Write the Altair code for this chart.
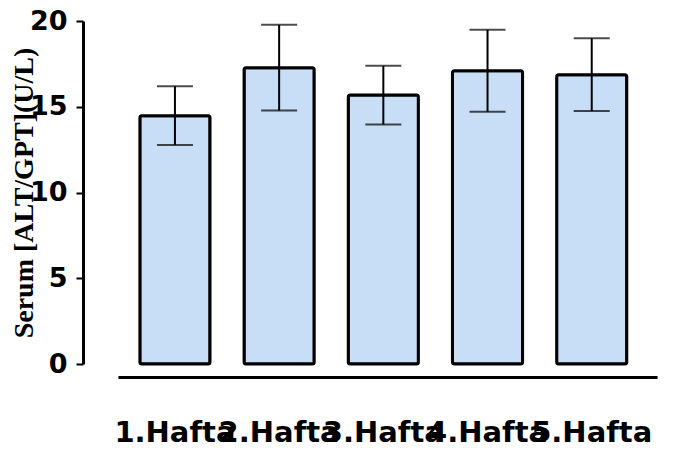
import altair as alt
import pandas as pd

weeks = ["1.Hafta", "2.Hafta", "3.Hafta", "4.Hafta", "5.Hafta"]
means = [14.48, 17.28, 15.68, 17.10, 16.87]
sds = [1.71, 2.50, 1.71, 2.39, 2.12]

df = pd.DataFrame({
    "week": weeks,
    "mean": means,
    "lo": [m - s for m, s in zip(means, sds)],
    "hi": [m + s for m, s in zip(means, sds)],
})

xscale = alt.Scale(paddingInner=0.327, paddingOuter=0.25, align=0.42)
yscale = alt.Scale(domain=[0, 20], nice=False, zero=True)

x = alt.X("week:N", sort=weeks, scale=xscale, title=None,
          axis=alt.Axis(labelAngle=0, labelFont="DejaVu Sans", labelFontWeight="bold",
                        labelFontSize=29, labelColor="black", labelOverlap=False,
                        ticks=False, labelPadding=41, domainWidth=3, domainColor="black",
                        offset=13, labelFlush=False))

bars = alt.Chart(df).mark_bar(color="#c8ddf6", stroke="black", strokeWidth=3,
                              cornerRadius=2).encode(
    x=x,
    y=alt.Y("mean:Q", scale=yscale, title="Serum [ALT/GPT](U/L)",
            axis=alt.Axis(values=[0, 5, 10, 15, 20], grid=False, offset=35,
                          domainWidth=3, domainColor="black", tickSize=7, tickWidth=2,
                          tickColor="black", labelPadding=9,
                          labelFont="DejaVu Sans", labelFontWeight="bold",
                          labelFontSize=27, labelColor="black",
                          titleFont="Liberation Serif", titleFontWeight="bold",
                          titleFontSize=28, titleColor="black", titlePadding=-9)),
)

err = alt.Chart(df).mark_rule(color="black", strokeWidth=2).encode(
    x=alt.X("week:N", sort=weeks, scale=xscale),
    y=alt.Y("lo:Q", scale=yscale),
    y2="hi:Q",
)
cap_hi = alt.Chart(df).mark_tick(color="black", thickness=2, size=36, orient="horizontal").encode(
    x=alt.X("week:N", sort=weeks, scale=xscale),
    y=alt.Y("hi:Q", scale=yscale),
)
cap_lo = alt.Chart(df).mark_tick(color="black", thickness=2, size=36, orient="horizontal").encode(
    x=alt.X("week:N", sort=weeks, scale=xscale),
    y=alt.Y("lo:Q", scale=yscale),
)

chart = alt.layer(bars, err, cap_hi, cap_lo).properties(
    width=539, height=343,
    background="white",
    autosize=alt.AutoSizeParams(type="none"),
    padding={"left": 110, "top": 13, "right": 28, "bottom": 88},
).configure_view(strokeWidth=0, stroke=None)

chart.save("out.html", embed_options={"renderer": "svg", "actions": False})
